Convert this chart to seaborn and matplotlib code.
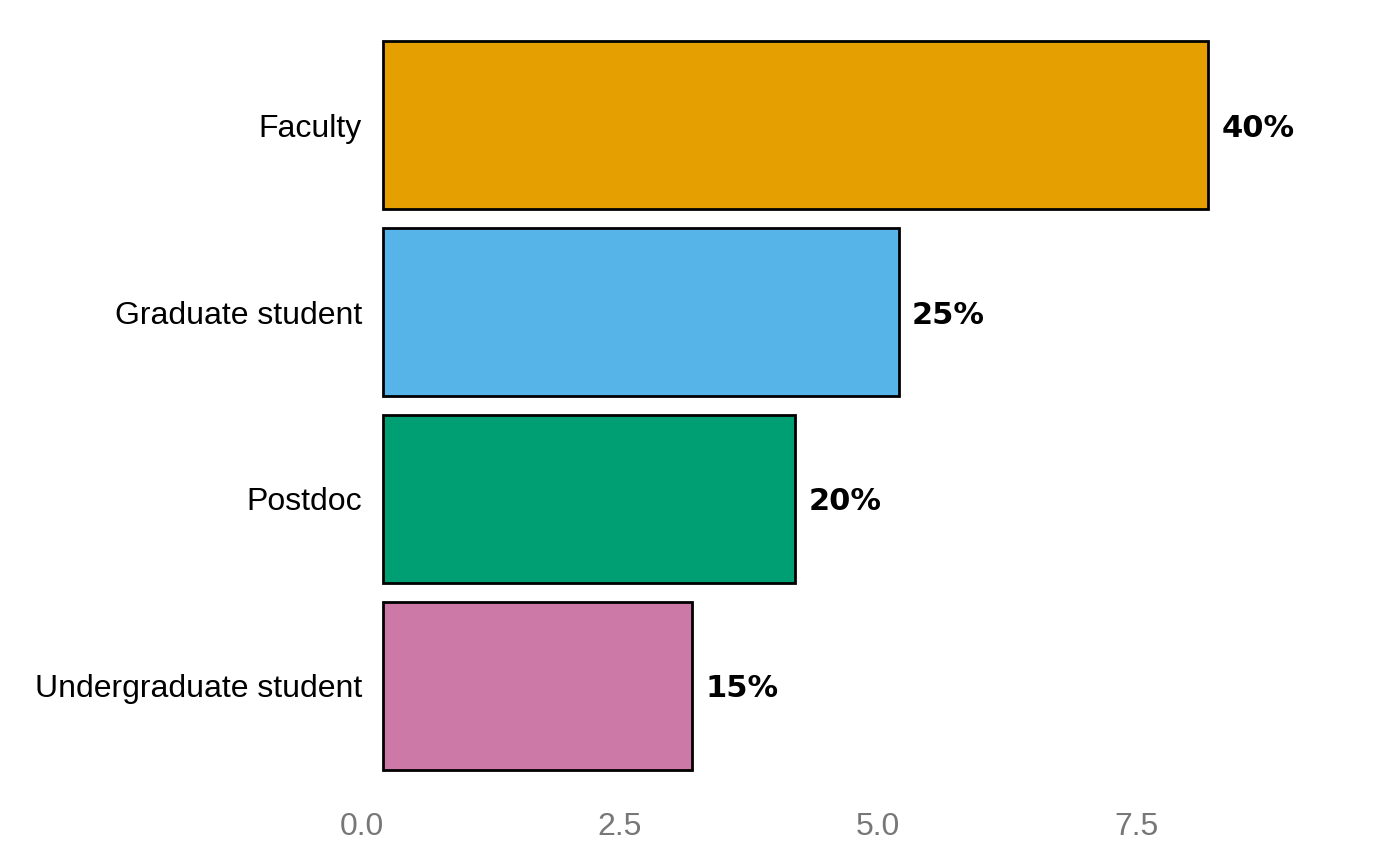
import matplotlib
matplotlib.use("Agg")
import matplotlib.pyplot as plt
import pandas as pd
import seaborn as sns

sns.set_theme(style="white")
plt.rcParams['font.family'] = ['Liberation Sans', 'DejaVu Sans']

# data
positions = ["Faculty", "Graduate student", "Postdoc", "Undergraduate student"]
counts = [8, 5, 4, 3]
colors = ["#E69F00", "#56B4E9", "#009E73", "#CC79A7"]
bar_start = 0.2

df = pd.DataFrame({"position": positions, "n": counts})
df["pct"] = (df["n"] / df["n"].sum() * 100).round().astype(int)

fig = plt.figure(figsize=(14, 8.66), dpi=100)
ax = fig.add_axes([0.2514, 0.0785, 0.7414, 0.9065])

sns.barplot(data=df, x="n", y="position", hue="position", palette=colors,
            saturation=1, orient="h", width=0.9, edgecolor="black",
            linewidth=2.0, legend=False, ax=ax)

# bars in the reference start slightly right of zero
for p in ax.patches:
    p.set_x(p.get_x() + bar_start)

for i, row in df.iterrows():
    ax.text(row["n"] + bar_start + 0.13, i, f"{row['pct']}%",
            ha="left", va="center_baseline", fontsize=22, fontweight="bold",
            family="DejaVu Sans", color="black")

ax.set_xticks([0, 2.5, 5.0, 7.5])
ax.set_xticklabels(["0.0", "2.5", "5.0", "7.5"])
ax.set_xlim(-0.097, 9.96)
ax.set_ylim(3.6, -0.6)
ax.tick_params(axis="x", length=0, pad=10, labelsize=23, labelcolor="#777777")
ax.tick_params(axis="y", length=0, pad=-7.2, labelsize=23, labelcolor="black")
ax.set_xlabel("")
ax.set_ylabel("")
sns.despine(ax=ax, left=True, bottom=True)
ax.grid(False)

fig.savefig("out.png", dpi=100, facecolor="white")
